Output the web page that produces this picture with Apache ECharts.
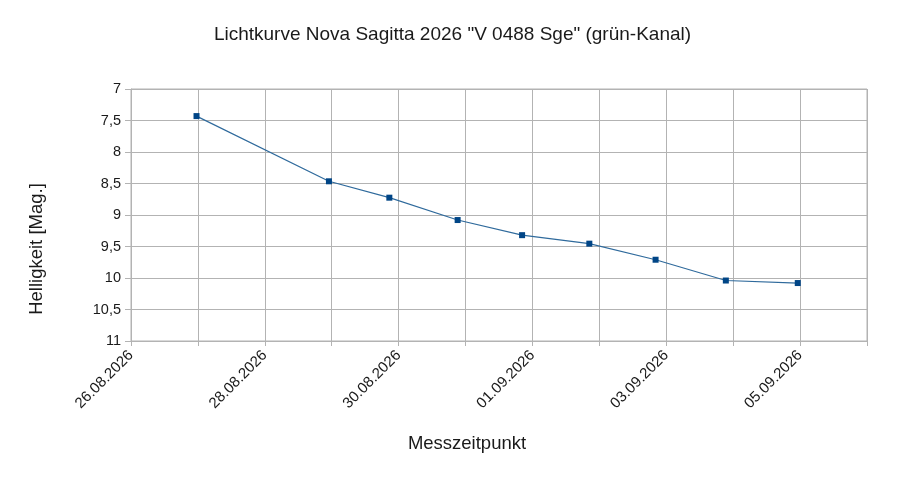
<!DOCTYPE html>
<html>
<head>
<meta charset="utf-8">
<script src="https://cdn.jsdelivr.net/npm/echarts@6/dist/echarts.min.js"></script>
<style>
  html, body { margin: 0; padding: 0; background: #fff; }
  #chart { width: 905px; height: 483px; }
</style>
</head>
<body>
<div id="chart"></div>
<script>
// Messzeitpunkte (UTC) und Helligkeit im grün-Kanal
var zeiten = ['2026-08-26T23:30', '2026-08-28T23:00', '2026-08-29T20:40', '2026-08-30T21:10',
              '2026-08-31T20:17', '2026-09-01T20:24', '2026-09-02T20:10', '2026-09-03T21:22',
              '2026-09-04T23:10'];
var helligkeit = [7.43, 8.465, 8.725, 9.08, 9.32, 9.455, 9.71, 10.04, 10.08];

var tag = 86400000;
var xMin = Date.UTC(2026, 7, 26);
var xMax = Date.UTC(2026, 8, 6);

function toUtc(s) {
    var d = s.split('T')[0].split('-'), t = s.split('T')[1].split(':');
    return Date.UTC(+d[0], +d[1] - 1, +d[2], +t[0], +t[1]);
}
function pad(n) { return n < 10 ? '0' + n : '' + n; }

var punkte = zeiten.map(function (z, i) {
    return [toUtc(z), helligkeit[i]];
});

var chart = echarts.init(document.getElementById('chart'));
chart.setOption({
    animation: false,
    backgroundColor: '#fff',
    textStyle: { fontFamily: 'Liberation Sans, Arial, sans-serif' },
    title: {
        text: 'Lichtkurve Nova Sagitta 2026 "V 0488 Sge" (grün-Kanal)',
        left: 'center',
        top: 20,
        textStyle: { fontSize: 19, fontWeight: 'normal', color: '#1a1a1a' }
    },
    grid: { left: 131, right: 38, top: 89, bottom: 142, show: true, borderColor: '#b3b3b3', borderWidth: 1 },
    xAxis: {
        type: 'value',
        min: xMin,
        max: xMax,
        interval: tag,
        name: 'Messzeitpunkt',
        nameLocation: 'middle',
        nameGap: 93,
        nameTextStyle: { fontSize: 18.5, color: '#1a1a1a', padding: [0, 64, 0, 0] },
        axisLine: { lineStyle: { color: '#b3b3b3' } },
        axisTick: { show: true, length: 5, lineStyle: { color: '#b3b3b3' } },
        splitLine: { lineStyle: { color: '#b3b3b3' } },
        axisLabel: {
            rotate: 45,
            fontSize: 15,
            color: '#1a1a1a',
            margin: 12,
            showMaxLabel: true,
            formatter: function (v) {
                var idx = Math.round((v - xMin) / tag);
                if (idx % 2 !== 0) return '';
                var d = new Date(v);
                return pad(d.getUTCDate()) + '.' + pad(d.getUTCMonth() + 1) + '.' + d.getUTCFullYear();
            }
        }
    },
    yAxis: {
        type: 'value',
        inverse: true,
        min: 7,
        max: 11,
        interval: 0.5,
        name: 'Helligkeit [Mag.]',
        nameLocation: 'middle',
        nameGap: 85,
        nameTextStyle: { fontSize: 18.5, color: '#1a1a1a', padding: [0, 68, 0, 0] },
        axisLine: { show: true, lineStyle: { color: '#b3b3b3' } },
        axisTick: { show: true, length: 6, lineStyle: { color: '#b3b3b3' } },
        splitLine: { lineStyle: { color: '#b3b3b3' } },
        axisLabel: {
            fontSize: 14.5,
            color: '#1a1a1a',
            margin: 10,
            formatter: function (v) { return String(v).replace('.', ','); }
        }
    },
    series: [{
        type: 'line',
        data: punkte,
        symbol: 'rect',
        symbolSize: 6,
        itemStyle: { color: '#004586' },
        lineStyle: { color: '#2f6a9c', width: 1.2 }
    }]
});
</script>
</body>
</html>
